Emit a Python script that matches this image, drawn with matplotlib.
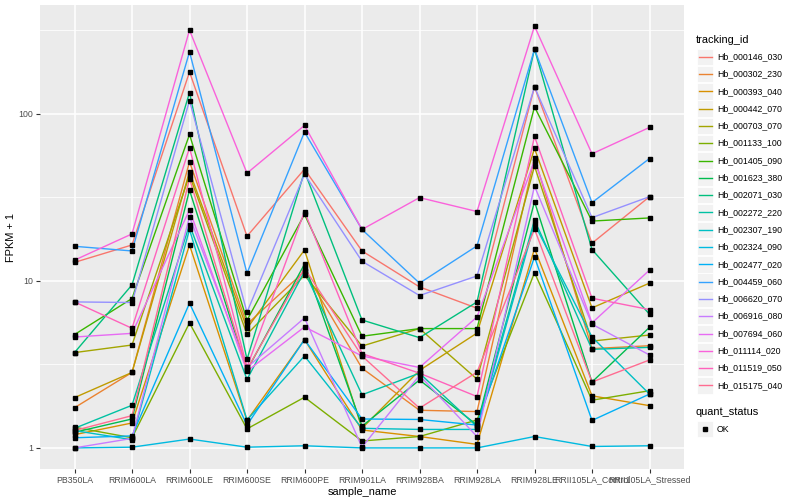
import numpy as np
import matplotlib.pyplot as plt
from matplotlib.patches import Rectangle
from matplotlib.lines import Line2D

plt.rcParams['font.family'] = ['Liberation Sans', 'DejaVu Sans']

samples = ["PB350LA", "RRIM600LA", "RRIM600LE", "RRIM600SE", "RRIM600PE", "RRIM901LA",
           "RRIM928BA", "RRIM928LA", "RRIM928LE", "RRII105LA_Control", "RRII105LA_Stressed"]

# FPKM + 1, one list per gene, in sample order
hb_000146_030 = [12.9, 16.4, 178, 18.5, 46.6, 15.1, 9.2, 6.86, 145, 16.8, 31.9]
hb_000302_230 = [1.74, 2.83, 51.6, 5.50, 11.4, 3.00, 1.68, 1.65, 54.5, 3.93, 4.09]
hb_000393_040 = [1.20, 1.41, 16.4, 1.46, 4.45, 1.28, 1.17, 1.05, 15.6, 2.05, 1.79]
hb_000442_070 = [2.00, 2.83, 45.1, 5.20, 15.3, 1.31, 2.91, 4.87, 62.0, 6.89, 9.69]
hb_000703_070 = [3.72, 4.13, 42.9, 4.79, 10.8, 4.07, 5.18, 2.58, 48.6, 4.36, 4.74]
hb_001133_100 = [1.33, 1.15, 5.60, 1.30, 2.01, 1.10, 1.17, 1.47, 11.2, 1.93, 2.20]
hb_001405_090 = [4.77, 7.84, 75.2, 5.81, 25.0, 4.66, 5.18, 5.18, 110, 22.8, 23.8]
hb_001623_380 = [1.24, 1.49, 34.9, 2.91, 12.6, 1.35, 2.55, 1.37, 29.8, 2.48, 5.27]
hb_002071_030 = [3.72, 9.46, 134, 3.39, 45.1, 5.83, 4.57, 7.48, 244, 15.4, 6.31]
hb_002272_220 = [1.31, 1.80, 21.7, 2.57, 11.4, 2.08, 2.80, 1.34, 23.2, 3.89, 4.00]
hb_002307_190 = [1.27, 1.12, 20.3, 1.47, 3.55, 1.31, 1.29, 1.29, 21.9, 4.61, 2.10]
hb_002324_090 = [1.00, 1.01, 1.13, 1.01, 1.03, 1.00, 1.00, 1.00, 1.17, 1.02, 1.03]
hb_002477_020 = [1.15, 1.18, 7.35, 1.37, 4.45, 1.49, 1.48, 1.37, 13.9, 1.46, 2.10]
hb_004459_060 = [16.1, 15.1, 235, 11.1, 77.8, 20.3, 9.69, 16.2, 244, 29.4, 54.0]
hb_006620_070 = [7.48, 7.42, 120, 6.49, 43.5, 13.1, 8.17, 10.7, 145, 23.9, 31.9]
hb_006916_080 = [1.00, 1.14, 24.2, 3.03, 6.00, 1.01, 2.72, 1.17, 36.9, 5.50, 3.60]
hb_007694_060 = [4.61, 4.85, 26.6, 2.88, 5.30, 3.55, 3.03, 6.08, 52.5, 5.60, 11.6]
hb_011114_020 = [13.3, 19.1, 317, 44.1, 85.2, 20.3, 31.5, 26.0, 335, 57.6, 82.9]
hb_011519_050 = [7.48, 5.20, 62.6, 3.05, 26.0, 3.67, 2.80, 2.03, 73.2, 7.87, 6.73]
hb_015175_040 = [1.27, 1.56, 40.9, 2.95, 11.9, 3.55, 1.73, 2.84, 20.4, 2.48, 3.36]

tracking_ids = ["Hb_000146_030", "Hb_000302_230", "Hb_000393_040", "Hb_000442_070",
                "Hb_000703_070", "Hb_001133_100", "Hb_001405_090", "Hb_001623_380",
                "Hb_002071_030", "Hb_002272_220", "Hb_002307_190", "Hb_002324_090",
                "Hb_002477_020", "Hb_004459_060", "Hb_006620_070", "Hb_006916_080",
                "Hb_007694_060", "Hb_011114_020", "Hb_011519_050", "Hb_015175_040"]
series = [hb_000146_030, hb_000302_230, hb_000393_040, hb_000442_070, hb_000703_070,
          hb_001133_100, hb_001405_090, hb_001623_380, hb_002071_030, hb_002272_220,
          hb_002307_190, hb_002324_090, hb_002477_020, hb_004459_060, hb_006620_070,
          hb_006916_080, hb_007694_060, hb_011114_020, hb_011519_050, hb_015175_040]

# ggplot hue palette, 20 levels
colors = ["#F8766D", "#EA8331", "#D89000", "#C09B00", "#A3A500", "#7CAE00", "#39B600",
          "#00BB4E", "#00BF7D", "#00C1A3", "#00BFC4", "#00BAE0", "#00B0F6", "#35A2FF",
          "#9590FF", "#C77CFF", "#E76BF3", "#FA62DB", "#FF62BC", "#FF6C91"]

W, H = 800, 500
fig = plt.figure(figsize=(8, 5), dpi=100)
ax = fig.add_axes([40 / W, 1 - 469 / H, (684 - 40) / W, (469 - 5) / H])
ax.set_facecolor("#EBEBEB")

x = np.arange(len(samples))
for vals, c in zip(series, colors):
    ax.plot(x, vals, color=c, lw=1.0, zorder=3)
for vals in series:
    ax.plot(x, vals, ls="none", marker="s", ms=2.5, color="black", zorder=4)

ax.set_yscale("log")
allv = np.log10(np.concatenate([np.array(s) for s in series]))
lo, hi = allv.min(), allv.max()
pad = 0.05 * (hi - lo)
ax.set_ylim(10 ** (lo - pad), 10 ** (hi + pad))
ax.set_xlim(-0.6, len(samples) - 1 + 0.6)

ax.set_xticks(x)
ax.set_xticklabels(samples)
ax.set_yticks([1, 10, 100])
ax.set_yticklabels(["1", "10", "100"])
ax.set_yticks([10 ** 0.5, 10 ** 1.5, 10 ** 2.5], minor=True)
ax.yaxis.set_minor_formatter(plt.NullFormatter())
ax.tick_params(axis="both", which="major", labelsize=6.3, labelcolor="#4D4D4D",
               color="#333333", length=2.7, width=0.8, pad=2)
ax.tick_params(axis="y", which="minor", length=0)
ax.grid(True, which="major", color="white", lw=1.1)
ax.grid(True, which="minor", axis="y", color="white", lw=0.55)
ax.set_axisbelow(True)
for sp in ax.spines.values():
    sp.set_visible(False)

ax.set_xlabel("sample_name", fontsize=7.9, labelpad=2)
ax.set_ylabel("FPKM + 1", fontsize=7.9, labelpad=2)

# legend drawn in figure pixels, ggplot style
def fx(px):
    return px / W

def fy(py):
    return 1 - py / H

fig.text(fx(696), fy(40), "tracking_id", fontsize=7.9, va="center", ha="left")
step = 17.3
for i, (name, c) in enumerate(zip(tracking_ids, colors)):
    cy = 56.7 + i * step
    fig.patches.append(Rectangle((fx(697), fy(cy + 8.2)), 16.4 / W, 16.4 / H,
                                 transform=fig.transFigure, facecolor="#F2F2F2",
                                 edgecolor="white", lw=0.6))
    fig.lines.append(Line2D([fx(698.5), fx(712)], [fy(cy), fy(cy)], color=c, lw=1.0,
                            transform=fig.transFigure))
    fig.text(fx(717), fy(cy), name, fontsize=6.3, va="center", ha="left")

fig.text(fx(696), fy(412), "quant_status", fontsize=7.9, va="center", ha="left")
fig.patches.append(Rectangle((fx(697), fy(429 + 8.2)), 16.4 / W, 16.4 / H,
                             transform=fig.transFigure, facecolor="#F2F2F2",
                             edgecolor="white", lw=0.6))
fig.lines.append(Line2D([fx(705)], [fy(429)], marker="s", ms=2.5, color="black",
                        transform=fig.transFigure))
fig.text(fx(717), fy(429), "OK", fontsize=6.3, va="center", ha="left")

fig.savefig("out.png", dpi=100)
